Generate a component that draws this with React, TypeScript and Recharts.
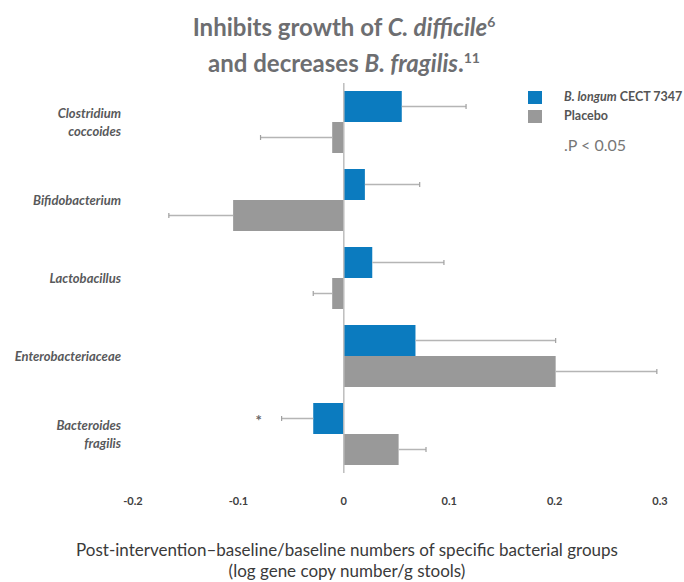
import React from 'react';
import { BarChart, Bar, XAxis, YAxis, ReferenceLine } from 'recharts';

const categories = ['Clostridium\ncoccoides', 'Bifidobacterium', 'Lactobacillus', 'Enterobacteriaceae', 'Bacteroides\nfragilis'];
const longumValues = [0.055, 0.02, 0.027, 0.068, -0.029];
const longumErrors = [0.061, 0.052, 0.068, 0.133, 0.03];
const placeboValues = [-0.011, -0.105, -0.011, 0.201, 0.052];
const placeboErrors = [0.068, 0.061, 0.018, 0.096, 0.026];
const longumSignificant = [false, false, false, false, true];
const xTicks = [-0.2, -0.1, 0, 0.1, 0.2, 0.3];

const BLUE = '#0b7bbf';
const GREY = '#999999';
const FONT = 'Lato, "Open Sans", sans-serif';

const data = categories.map((name, i) => ({
  name,
  longum: longumValues[i],
  longumErr: longumErrors[i],
  placebo: placeboValues[i],
  placeboErr: placeboErrors[i],
  sig: longumSignificant[i],
}));

// bar with a one-sided error whisker in the direction of the value
const makeShape = (fill: string, valKey: string, errKey: string) => (props: any) => {
  const { x, y, width, height, payload } = props;
  const v = payload[valKey];
  const e = payload[errKey];
  const left = Math.min(x, x + width);
  const right = Math.max(x, x + width);
  const top = Math.min(y, y + height);
  const h = Math.abs(height);
  const len = right - left;
  const dir = v >= 0 ? 1 : -1;
  const end = v >= 0 ? right : left;
  const errEnd = end + (dir * len * e) / Math.abs(v);
  const cy = top + h / 2;
  return (
    <g>
      <rect x={left} y={top} width={len} height={h} fill={fill} />
      <line x1={end} x2={errEnd} y1={cy} y2={cy} stroke="#b5b5b5" strokeWidth={1.5} />
      <line x1={errEnd} x2={errEnd} y1={cy - 2.5} y2={cy + 2.5} stroke="#a0a0a0" strokeWidth={1.2} />
      {valKey === 'longum' && payload.sig && (
        <text x={errEnd - 23} y={cy + 7} textAnchor="middle" fontSize={15} fontWeight="bold" fill="#666" fontFamily={FONT}>
          *
        </text>
      )}
    </g>
  );
};

const CategoryTick = ({ x, y, payload }: any) => {
  const lines = String(payload.value).split('\n');
  const startDy = -((lines.length - 1) * 18) / 2 + 5;
  return (
    <text x={x} y={y} textAnchor="end" fontSize={13} fontWeight="bold" fontStyle="italic" fill="#58595b" fontFamily={FONT}>
      {lines.map((l, i) => (
        <tspan key={i} x={x} dy={i === 0 ? startDy : 18}>
          {l}
        </tspan>
      ))}
    </text>
  );
};

const ValueTick = ({ x, y, payload }: any) => (
  <text x={x} y={y} dy="0.71em" textAnchor="middle" fontSize={11} fontWeight="bold" fill="#404040" fontFamily={FONT}>
    {payload.value}
  </text>
);

const App = () => {
  return (
    <div style={{ position: 'relative', width: 684, height: 582, fontFamily: FONT, background: '#fff' }}>
      <style>{`body{margin:0}`}</style>
      <div
        style={{
          position: 'absolute',
          top: 6,
          left: 0,
          width: 688,
          textAlign: 'center',
          fontSize: 24,
          fontWeight: 'bold',
          color: '#6d6e71',
          lineHeight: '31px',
        }}
      >
        <div>
          Inhibits growth of <i>C. difficile</i>
          <sup style={{ fontSize: 14 }}>6</sup>
        </div>
        <div>
          and decreases <i>B. fragilis</i>.<sup style={{ fontSize: 14 }}>11</sup>
        </div>
      </div>
      <BarChart
        width={684}
        height={582}
        data={data}
        layout="vertical"
        barSize={31}
        barGap={0}
        margin={{ top: 83, right: 24, bottom: 79, left: 0 }}
      >
        <XAxis
          type="number"
          domain={[-0.2, 0.3]}
          ticks={xTicks}
          axisLine={false}
          tickLine={false}
          tickSize={0}
          tickMargin={24}
          height={30}
          tick={<ValueTick />}
          interval={0}
        />
        <YAxis
          type="category"
          dataKey="name"
          width={133}
          axisLine={false}
          tickLine={false}
          tickSize={0}
          tickMargin={12}
          tick={<CategoryTick />}
          interval={0}
        />
        <ReferenceLine x={0} stroke="#bdbdbd" strokeWidth={1.5} />
        <Bar dataKey="longum" fill={BLUE} isAnimationActive={false} shape={makeShape(BLUE, 'longum', 'longumErr')} />
        <Bar dataKey="placebo" fill={GREY} isAnimationActive={false} shape={makeShape(GREY, 'placebo', 'placeboErr')} />
      </BarChart>
      <div style={{ position: 'absolute', left: 528, top: 91, width: 14, height: 13, background: BLUE }} />
      <div style={{ position: 'absolute', left: 528, top: 110, width: 14, height: 13, background: GREY }} />
      <div style={{ position: 'absolute', left: 564, top: 89, fontSize: 12.5, fontWeight: 'bold', color: '#555', lineHeight: '16px', whiteSpace: 'nowrap' }}>
        <i>B. longum</i> CECT 7347
      </div>
      <div style={{ position: 'absolute', left: 564, top: 108, fontSize: 12.5, fontWeight: 'bold', color: '#555', lineHeight: '16px' }}>
        Placebo
      </div>
      <div style={{ position: 'absolute', left: 564, top: 135, fontSize: 16, color: '#777', lineHeight: '20px' }}>.P &lt; 0.05</div>
      <div
        style={{
          position: 'absolute',
          top: 539,
          left: 0,
          width: 694,
          textAlign: 'center',
          fontSize: 17,
          color: '#3a3a3a',
          lineHeight: '21px',
        }}
      >
        <div>Post-intervention–baseline/baseline numbers of specific bacterial groups</div>
        <div>(log gene copy number/g stools)</div>
      </div>
    </div>
  );
};

export default App;
